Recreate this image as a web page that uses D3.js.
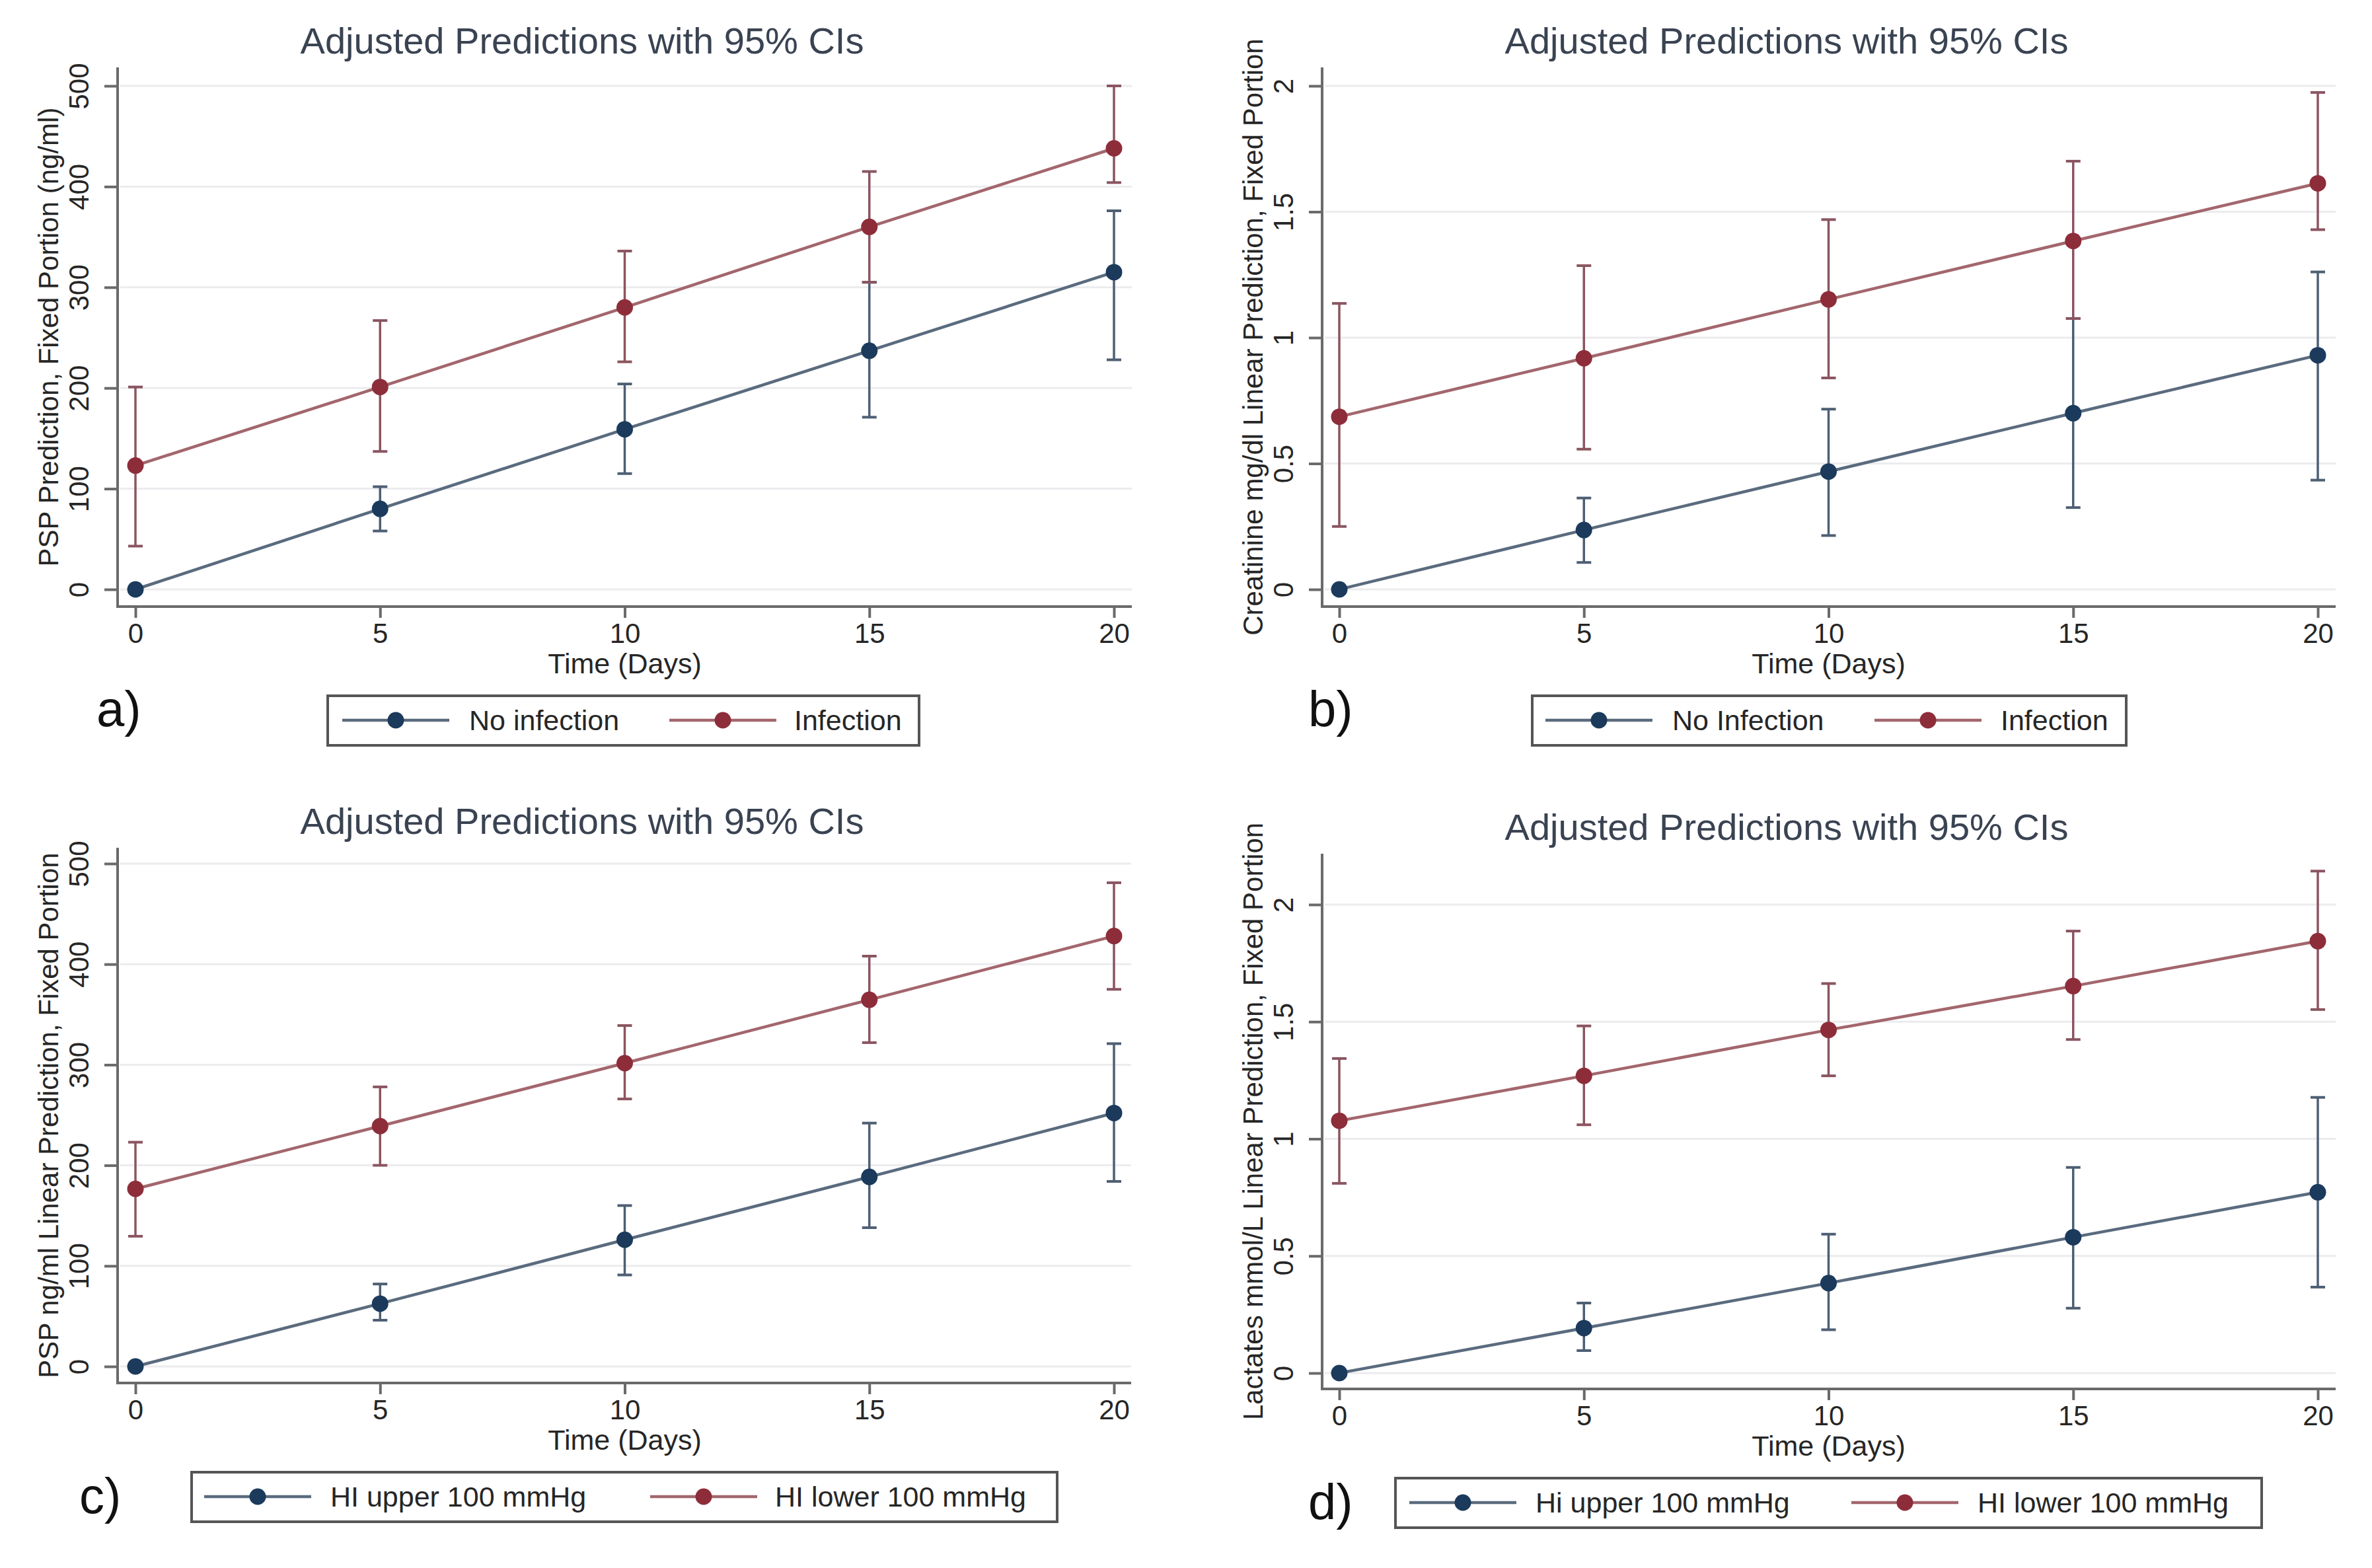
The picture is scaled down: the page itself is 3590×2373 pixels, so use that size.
<!DOCTYPE html>
<html>
<head>
<meta charset="utf-8">
<script src="https://cdn.jsdelivr.net/npm/d3@7"></script>
<style>
  body { margin: 0; background: #fff; }
  svg { display: block; font-family: "Liberation Sans", Arial, sans-serif; }
</style>
</head>
<body>
<div id="chart"></div>
<script>
// ---- data ----
const days = [0, 5, 10, 15, 20];
const titleText = "Adjusted Predictions with 95% CIs";
const xTitle = "Time (Days)";

const psp500Ticks = [0, 100, 200, 300, 400, 500];
const ratioTicks = [0, 0.5, 1, 1.5, 2];

// a) PSP, infection
const aBlueFit = [0, 80, 159, 237, 315];
const aBlueLo  = [0, 58, 115, 171, 228];
const aBlueHi  = [0, 102, 204, 305, 376];
const aRedFit  = [123, 201, 280, 360, 438];
const aRedLo   = [43, 137, 226, 305, 404];
const aRedHi   = [201, 267, 336, 415, 500];

// b) creatinine, infection
const bBlueFit = [0, 0.236, 0.468, 0.700, 0.930];
const bBlueLo  = [0, 0.107, 0.214, 0.325, 0.434];
const bBlueHi  = [0, 0.363, 0.716, 1.076, 1.261];
const bRedFit  = [0.686, 0.918, 1.152, 1.384, 1.613];
const bRedLo   = [0.250, 0.557, 0.840, 1.076, 1.429];
const bRedHi   = [1.136, 1.286, 1.469, 1.701, 1.974];

// c) PSP, HI
const cBlueFit = [0, 62.5, 126, 188.5, 252];
const cBlueLo  = [0, 46, 91, 138, 184];
const cBlueHi  = [0, 82, 160, 242, 321];
const cRedFit  = [176.6, 239, 301.6, 364.6, 428];
const cRedLo   = [129.5, 200, 266, 322, 375];
const cRedHi   = [223, 278, 339, 408, 481];

// d) lactates, HI
const dBlueFit = [0, 0.192, 0.384, 0.580, 0.772];
const dBlueLo  = [0, 0.096, 0.185, 0.277, 0.367];
const dBlueHi  = [0, 0.299, 0.593, 0.878, 1.177];
const dRedFit  = [1.077, 1.269, 1.465, 1.652, 1.844];
const dRedLo   = [0.810, 1.060, 1.269, 1.424, 1.552];
const dRedHi   = [1.343, 1.482, 1.663, 1.887, 2.143];

// ---- styles ----
const W = 3590, H = 2373;
const blue = { marker: "#1b3a5c", line: "#5a6b7e", bar: "#4e5f74" };
const red  = { marker: "#8e2d3a", line: "#a3666d", bar: "#8a5560" };
const axisColor = "#6a6a6a";
const textColor = "#262626";
const titleColor = "#3a4352";

// layout of each panel (pixel positions of the axis frame)
const panels = [
  { label: "a)", yTitle: "PSP Prediction, Fixed Portion (ng/ml)",
    yDomain: [0, 500], yTicks: psp500Ticks,
    axisLeft: 178, axisRight: 1713, axisTop: 102, axisY: 918,
    xRange: [205, 1686], yRange: [892, 130],
    labelX: 146, labelY: 1099,
    legend: { x0: 496, x1: 1391, items: [[518, 710], [1013, 1202]] },
    names: ["No infection", "Infection"],
    series: [[aBlueFit, aBlueLo, aBlueHi], [aRedFit, aRedLo, aRedHi]] },
  { label: "b)", yTitle: "Creatinine mg/dl Linear Prediction, Fixed Portion",
    yDomain: [0, 2], yTicks: ratioTicks,
    axisLeft: 2001, axisRight: 3535, axisTop: 102, axisY: 918,
    xRange: [2027, 3508], yRange: [892, 130],
    labelX: 1980, labelY: 1099,
    legend: { x0: 2319, x1: 3218, items: [[2339, 2531], [2837, 3028]] },
    names: ["No Infection", "Infection"],
    series: [[bBlueFit, bBlueLo, bBlueHi], [bRedFit, bRedLo, bRedHi]] },
  { label: "c)", yTitle: "PSP ng/ml Linear Prediction, Fixed Portion",
    yDomain: [0, 500], yTicks: psp500Ticks,
    axisLeft: 178, axisRight: 1712, axisTop: 1283, axisY: 2093,
    xRange: [205, 1686], yRange: [2068, 1307],
    labelX: 120, labelY: 2290,
    legend: { x0: 290, x1: 1600, items: [[309, 500], [984, 1173]] },
    names: ["HI upper 100 mmHg", "HI lower 100 mmHg"],
    series: [[cBlueFit, cBlueLo, cBlueHi], [cRedFit, cRedLo, cRedHi]] },
  { label: "d)", yTitle: "Lactates mmol/L Linear Prediction, Fixed Portion",
    yDomain: [0, 2], yTicks: ratioTicks,
    axisLeft: 2001, axisRight: 3535, axisTop: 1292, axisY: 2102,
    xRange: [2027, 3508], yRange: [2078, 1369],
    labelX: 1980, labelY: 2299,
    legend: { x0: 2112, x1: 3423, items: [[2133, 2324], [2802, 2993]] },
    names: ["Hi upper 100 mmHg", "HI lower 100 mmHg"],
    series: [[dBlueFit, dBlueLo, dBlueHi], [dRedFit, dRedLo, dRedHi]] }
];
const palettes = [blue, red];

const svg = d3.select("#chart").append("svg")
  .attr("width", W)
  .attr("height", H)
  .attr("viewBox", `0 0 ${W} ${H}`);

svg.append("rect").attr("width", W).attr("height", H).attr("fill", "#fff");

panels.forEach(p => {
  const g = svg.append("g");
  const x = d3.scaleLinear().domain([0, 20]).range(p.xRange);
  const y = d3.scaleLinear().domain(p.yDomain).range(p.yRange);

  // grid lines
  g.selectAll(".grid").data(p.yTicks).enter().append("line")
    .attr("x1", p.axisLeft + 4).attr("x2", p.axisRight)
    .attr("y1", d => y(d)).attr("y2", d => y(d))
    .attr("stroke", "#ececef").attr("stroke-width", 3);

  // x axis
  const xAxis = g.append("g")
    .attr("transform", `translate(0,${p.axisY})`)
    .call(d3.axisBottom(x).tickValues(days).tickSize(17).tickFormat(d3.format("d")));
  xAxis.select(".domain").remove();
  xAxis.selectAll(".tick line").attr("stroke", axisColor).attr("stroke-width", 4);
  xAxis.selectAll(".tick text")
    .attr("y", 55).attr("dy", 0)
    .attr("fill", textColor)
    .style("font-size", "42px");

  // y axis
  const yAxis = g.append("g")
    .attr("transform", `translate(${p.axisLeft},0)`)
    .call(d3.axisLeft(y).tickValues(p.yTicks).tickSize(20).tickFormat(d3.format("~g")));
  yAxis.select(".domain").remove();
  yAxis.selectAll(".tick line").attr("stroke", axisColor).attr("stroke-width", 4);
  yAxis.selectAll(".tick text")
    .attr("x", 0).attr("y", 0).attr("dy", 0)
    .attr("text-anchor", "middle")
    .attr("transform", "translate(-44,0) rotate(-90)")
    .attr("fill", textColor)
    .style("font-size", "42px");

  // axis frame lines
  g.append("line")
    .attr("x1", p.axisLeft).attr("x2", p.axisLeft)
    .attr("y1", p.axisTop).attr("y2", p.axisY + 2)
    .attr("stroke", axisColor).attr("stroke-width", 4);
  g.append("line")
    .attr("x1", p.axisLeft - 2).attr("x2", p.axisRight)
    .attr("y1", p.axisY).attr("y2", p.axisY)
    .attr("stroke", axisColor).attr("stroke-width", 4);

  // titles
  g.append("text")
    .attr("x", p.axisLeft + 703)
    .attr("y", p.axisTop - 21)
    .attr("text-anchor", "middle")
    .attr("fill", titleColor)
    .style("font-size", "56px")
    .text(titleText);

  g.append("text")
    .attr("x", (p.xRange[0] + p.xRange[1]) / 2)
    .attr("y", p.axisY + 101)
    .attr("text-anchor", "middle")
    .attr("fill", textColor)
    .style("font-size", "43px")
    .text(xTitle);

  g.append("text")
    .attr("transform", `translate(${p.axisLeft - 90},${(p.axisTop + p.axisY) / 2}) rotate(-90)`)
    .attr("text-anchor", "middle")
    .attr("fill", textColor)
    .style("font-size", "42px")
    .text(p.yTitle);

  // series: CIs, then lines, then markers
  p.series.forEach((s, si) => {
    const col = palettes[si];
    const rows = days.map((d, i) => ({ d: d, fit: s[0][i], lo: s[1][i], hi: s[2][i] }));
    const bars = g.append("g");
    bars.selectAll(".ci").data(rows).enter().append("line")
      .attr("x1", r => x(r.d)).attr("x2", r => x(r.d))
      .attr("y1", r => y(r.lo)).attr("y2", r => y(r.hi))
      .attr("stroke", col.bar).attr("stroke-width", 3.5);
    ["lo", "hi"].forEach(k => {
      bars.selectAll(".cap-" + k).data(rows).enter().append("line")
        .attr("x1", r => x(r.d) - 11).attr("x2", r => x(r.d) + 11)
        .attr("y1", r => y(r[k])).attr("y2", r => y(r[k]))
        .attr("stroke", col.bar).attr("stroke-width", 4);
    });
  });
  p.series.forEach((s, si) => {
    const col = palettes[si];
    const rows = days.map((d, i) => ({ d: d, fit: s[0][i] }));
    g.append("path")
      .datum(rows)
      .attr("fill", "none")
      .attr("stroke", col.line)
      .attr("stroke-width", 4.5)
      .attr("d", d3.line().x(r => x(r.d)).y(r => y(r.fit)));
    g.selectAll(".pt" + si).data(rows).enter().append("circle")
      .attr("cx", r => x(r.d)).attr("cy", r => y(r.fit))
      .attr("r", 12.5)
      .attr("fill", col.marker);
  });

  // legend
  const L = p.legend;
  const top = p.axisY + 135;
  const lg = g.append("g");
  lg.append("rect")
    .attr("x", L.x0).attr("y", top)
    .attr("width", L.x1 - L.x0).attr("height", 75)
    .attr("fill", "#fff")
    .attr("stroke", "#555").attr("stroke-width", 4);
  L.items.forEach((it, i) => {
    const col = palettes[i];
    lg.append("line")
      .attr("x1", it[0]).attr("x2", it[0] + 162)
      .attr("y1", top + 37).attr("y2", top + 37)
      .attr("stroke", col.line).attr("stroke-width", 4.5);
    lg.append("circle")
      .attr("cx", it[0] + 81).attr("cy", top + 37).attr("r", 12.5)
      .attr("fill", col.marker);
    lg.append("text")
      .attr("x", it[1]).attr("y", top + 52)
      .attr("fill", textColor)
      .style("font-size", "43px")
      .text(p.names[i]);
  });

  // panel letter
  g.append("text")
    .attr("x", p.labelX).attr("y", p.labelY)
    .attr("fill", "#111")
    .style("font-size", "76px")
    .text(p.label);
});
</script>
</body>
</html>
